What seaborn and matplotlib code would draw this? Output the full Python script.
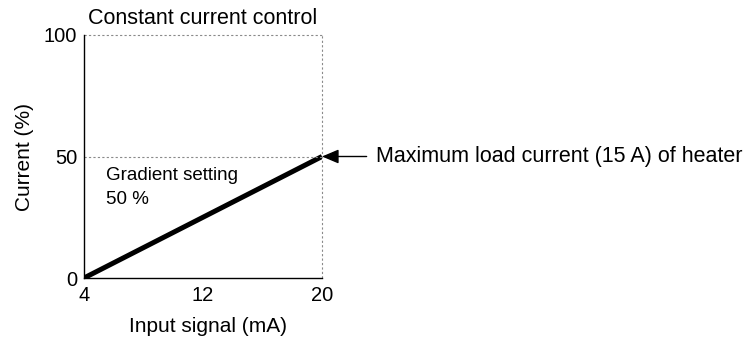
import matplotlib
matplotlib.use("Agg")
import matplotlib.pyplot as plt
import seaborn as sns
import pandas as pd

signal_ma = [4, 20]
current_pct = [0, 50]
x_ticks = [4, 12, 20]
y_ticks = [0, 50, 100]

sns.set_theme(style="white")
plt.rcParams['font.family'] = ['Liberation Sans', 'DejaVu Sans']
plt.rcParams['text.color'] = 'black'
plt.rcParams['axes.labelcolor'] = 'black'

fig = plt.figure(figsize=(7.47, 3.38), dpi=100)
ax = fig.add_axes([84/747, 60/338, (322-84)/747, (278-35)/338])

df = pd.DataFrame({"x": signal_ma, "y": current_pct})
sns.lineplot(data=df, x="x", y="y", ax=ax, color="black", linewidth=3.6,
             solid_capstyle="butt")

ax.set_xlim(4, 20)
ax.set_ylim(0, 100)
ax.set_xticks(x_ticks)
ax.set_yticks(y_ticks)
ax.tick_params(axis="both", length=0, labelsize=14.5, colors="black")
ax.tick_params(axis="x", pad=6)
ax.tick_params(axis="y", pad=5)

for s in ["left", "bottom"]:
    ax.spines[s].set_color("black")
    ax.spines[s].set_linewidth(1.0)
for s in ["top", "right"]:
    ax.spines[s].set_visible(False)

dash = dict(color="#8a8a8a", lw=0.8, ls=(0, (2, 2)), clip_on=False)
ax.plot([4, 20], [100, 100], **dash)
ax.plot([20, 20], [0, 100], **dash)
ax.plot([4, 20], [50, 50], **dash)

ax.set_xlabel("Input signal (mA)", fontsize=15)
ax.set_ylabel("Current (%)", fontsize=15)
ax.xaxis.set_label_coords((208 - 84) / (322 - 84), -(326 - 278) / (278 - 35))
ax.yaxis.set_label_coords(-(84 - 25) / (322 - 84), (278 - 157) / (278 - 35))
ax.xaxis.label.set_va("center")
ax.yaxis.label.set_va("center")

fig.text(88/747, 1 - 18/338, "Constant current control", fontsize=15.5, va="center", ha="left")
ax.text(5.45, 42.0, "Gradient setting", fontsize=13.5, va="center", ha="left")
ax.text(5.45, 32.2, "50 %", fontsize=13.5, va="center", ha="left")

ax.annotate("", xy=(20, 50), xytext=(23.0, 50),
            arrowprops=dict(arrowstyle="-|>,head_length=0.85,head_width=0.36",
                            color="black", lw=1.0,
                            mutation_scale=12, shrinkA=0, shrinkB=0),
            annotation_clip=False)
ax.text(23.6, 50, "Maximum load current (15 A) of heater", fontsize=15.5,
        va="center", ha="left")

fig.savefig("out.png", dpi=100)
